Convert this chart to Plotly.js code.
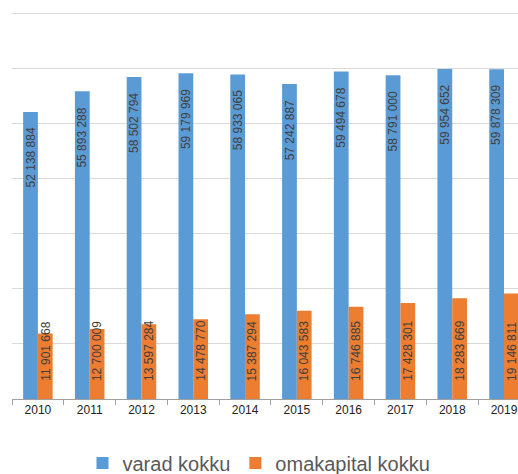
<!DOCTYPE html>
<html>
<head>
<meta charset="utf-8">
<script src="https://cdn.plot.ly/plotly-3.0.1.min.js"></script>
<style>html,body{margin:0;padding:0;background:#fff;}#chart{width:518px;height:474px;}</style>
</head>
<body>
<div id="chart"></div>
<script>
var years = ['2010','2011','2012','2013','2014','2015','2016','2017','2018','2019'];
var varadKokku = [52138884, 55893288, 58502794, 59179969, 58933065, 57242887, 59494678, 58791000, 59954652, 59878309];
var omakapitalKokku = [11901668, 12700009, 13597284, 14478770, 15387294, 16043583, 16746885, 17428301, 18283669, 19146811];
var seriesNames = ['varad kokku', 'omakapital kokku'];

function fmt(v){ return String(v).replace(/\B(?=(\d{3})+(?!\d))/g, ' '); }

var blue = '#5B9BD5', orange = '#ED7D31';
var barShift = 7.4;
var labelFont = {family: 'Liberation Sans, Arial, sans-serif', size: 12, color: '#404040'};

var annotations = [];
years.forEach(function(y, i){
  annotations.push({x: i, y: varadKokku[i], xref: 'x', yref: 'y', text: fmt(varadKokku[i]),
    textangle: -90, showarrow: false, xanchor: 'center', yanchor: 'top', xshift: -barShift, yshift: -14,
    font: labelFont});
  annotations.push({x: i, y: 0, xref: 'x', yref: 'y', text: fmt(omakapitalKokku[i]),
    textangle: -90, showarrow: false, xanchor: 'center', yanchor: 'bottom', xshift: barShift, yshift: 16,
    font: labelFont});
});

var data = [
  {type: 'bar', name: seriesNames[0], x: years, y: varadKokku, marker: {color: blue}},
  {type: 'bar', name: seriesNames[1], x: years, y: omakapitalKokku, marker: {color: orange}}
];

var layout = {
  width: 518, height: 474,
  margin: {l: 12, r: 0, t: 12, b: 75},
  paper_bgcolor: '#fff', plot_bgcolor: '#fff',
  barmode: 'group', bargap: 0.43, bargroupgap: 0,
  font: {family: 'Liberation Sans, Arial, sans-serif'},
  xaxis: {type: 'category', range: [-0.5, 9.27], showline: true, linecolor: '#a0a0a0', linewidth: 1,
    ticks: 'outside', tickson: 'boundaries', ticklen: 5, tickcolor: '#a0a0a0', showgrid: false,
    tickfont: {size: 12, color: '#222'}},
  yaxis: {range: [0, 70300000], dtick: 10000000, tick0: 0, showticklabels: false, gridcolor: '#d9d9d9', gridwidth: 1,
    zeroline: false, showline: false},
  showlegend: true,
  legend: {orientation: 'h', x: 0.5, xanchor: 'center', xref: 'container', y: 0.023, yanchor: 'middle', yref: 'container',
    font: {size: 20, color: '#595959'}},
  annotations: annotations
};

Plotly.newPlot('chart', data, layout, {staticPlot: true, displayModeBar: false});
</script>
</body>
</html>
